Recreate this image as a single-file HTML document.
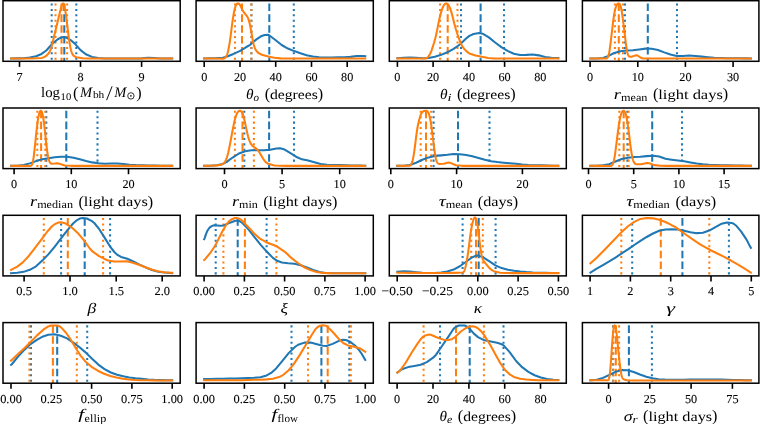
<!DOCTYPE html>
<html><head><meta charset="utf-8"><title>Posterior distributions</title>
<style>
html,body{margin:0;padding:0;background:#fff;}
body{width:760px;height:424px;overflow:hidden;}
svg{display:block;font-family:"Liberation Serif",serif;will-change:transform;text-rendering:geometricPrecision;}
.t{stroke:#000;stroke-width:0.1px;}
</style></head><body>
<svg width="760" height="424" viewBox="0 0 760 424">
<rect x="0" y="0" width="760" height="424" fill="#fff"/>
<clipPath id="c00"><rect x="3.00" y="0.70" width="177.20" height="60.60"/></clipPath>
<g clip-path="url(#c00)">
<path d="M51.70,3.45V61.30" stroke="#1f77b4" stroke-width="2.05" stroke-dasharray="2.05,3.38" fill="none"/>
<path d="M76.30,3.45V61.30" stroke="#1f77b4" stroke-width="2.05" stroke-dasharray="2.05,3.38" fill="none"/>
<path d="M64.30,3.45V61.30" stroke="#1f77b4" stroke-width="2.05" stroke-dasharray="7.58,3.28" fill="none"/>
<path d="M55.50,3.45V61.30" stroke="#ff7f0e" stroke-width="2.05" stroke-dasharray="2.05,3.38" fill="none"/>
<path d="M67.10,3.45V61.30" stroke="#ff7f0e" stroke-width="2.05" stroke-dasharray="2.05,3.38" fill="none"/>
<path d="M61.50,3.45V61.30" stroke="#ff7f0e" stroke-width="2.05" stroke-dasharray="7.58,3.28" fill="none"/>
<path d="M11.05,58.49L17.30,58.38 23.55,58.16 29.80,57.54 36.05,56.30 41.55,53.95 46.30,50.47 52.55,43.56 57.80,39.26 61.30,37.43 63.55,37.00 65.80,37.35 70.80,40.16 74.55,43.35 80.55,50.08 85.80,54.25 92.05,56.92 98.30,58.03 104.55,58.44 110.80,58.51 117.05,58.55 123.30,58.57 129.30,58.58 135.55,58.55 141.80,58.37 148.05,57.67 154.30,57.95 160.55,58.51 166.80,58.58 172.15,58.55" stroke="#1f77b4" stroke-width="2.05" fill="none" stroke-linejoin="round" stroke-linecap="square"/>
<path d="M11.05,58.55L17.30,58.51 23.55,58.48 29.80,58.41 36.05,58.26 42.05,57.91 44.55,56.94 46.55,55.55 48.05,54.04 49.05,52.71 49.80,51.42 50.30,50.36 50.80,49.06 51.30,47.51 51.80,45.70 58.05,19.98 60.55,9.77 61.30,6.99 61.80,5.40 62.05,4.74 62.30,4.19 62.55,3.77 62.80,3.51 63.05,3.41 63.30,3.49 63.55,3.75 63.80,4.20 64.05,4.84 64.30,5.67 64.55,6.67 64.80,7.84 65.05,9.17 65.30,10.64 65.55,12.23 65.80,13.94 66.30,17.61 67.05,23.56 68.05,31.71 68.55,35.64 69.05,39.33 69.30,41.05 69.55,42.67 69.80,44.19 70.05,45.60 70.30,46.91 70.55,48.11 70.80,49.20 71.05,50.19 71.30,51.09 71.55,51.90 71.80,52.61 72.30,53.81 72.80,54.71 73.30,55.40 74.05,56.13 76.30,57.28 82.55,58.29 88.80,58.53 95.05,58.54 101.30,58.55 107.55,58.56 113.80,58.56 120.05,58.56 126.30,58.56 132.30,58.56 138.55,58.56 144.80,58.56 151.05,58.56 157.30,58.55 163.55,58.55 169.80,58.55 172.15,58.55" stroke="#ff7f0e" stroke-width="2.05" fill="none" stroke-linejoin="round" stroke-linecap="square"/>
</g>
<rect x="3.00" y="0.70" width="177.20" height="60.60" fill="none" stroke="#000" stroke-width="1.5"/>
<path d="M19.50,61.30V66.90" stroke="#000" stroke-width="1.6"/>
<text class="t" x="16.45" y="80.60" font-size="12.20" textLength="6.10" lengthAdjust="spacingAndGlyphs">7</text>
<path d="M80.50,61.30V66.90" stroke="#000" stroke-width="1.6"/>
<text class="t" x="77.45" y="80.60" font-size="12.20" textLength="6.10" lengthAdjust="spacingAndGlyphs">8</text>
<path d="M141.60,61.30V66.90" stroke="#000" stroke-width="1.6"/>
<text class="t" x="138.55" y="80.60" font-size="12.20" textLength="6.10" lengthAdjust="spacingAndGlyphs">9</text>
<clipPath id="c01"><rect x="196.10" y="0.70" width="177.20" height="60.60"/></clipPath>
<g clip-path="url(#c01)">
<path d="M251.40,3.45V61.30" stroke="#1f77b4" stroke-width="2.05" stroke-dasharray="2.05,3.38" fill="none"/>
<path d="M293.80,3.45V61.30" stroke="#1f77b4" stroke-width="2.05" stroke-dasharray="2.05,3.38" fill="none"/>
<path d="M269.30,3.45V61.30" stroke="#1f77b4" stroke-width="2.05" stroke-dasharray="7.58,3.28" fill="none"/>
<path d="M235.00,3.45V61.30" stroke="#ff7f0e" stroke-width="2.05" stroke-dasharray="2.05,3.38" fill="none"/>
<path d="M251.40,3.45V61.30" stroke="#ff7f0e" stroke-width="2.05" stroke-dasharray="2.05,3.38" fill="none"/>
<path d="M242.00,3.45V61.30" stroke="#ff7f0e" stroke-width="2.05" stroke-dasharray="7.58,3.28" fill="none"/>
<path d="M204.15,58.49L210.40,58.33 216.65,58.13 222.90,57.65 227.15,56.49 233.40,53.93 239.65,51.07 245.90,47.26 250.15,44.82 256.40,39.37 260.90,36.32 264.65,35.01 267.65,34.82 269.15,35.19 275.40,39.99 281.65,44.99 287.90,48.54 294.15,51.09 300.40,53.22 306.65,55.17 312.90,56.54 319.15,57.21 325.40,57.45 331.65,57.45 337.90,57.38 344.15,57.29 350.40,56.88 356.65,55.98 362.90,56.04 365.25,56.18" stroke="#1f77b4" stroke-width="2.05" fill="none" stroke-linejoin="round" stroke-linecap="square"/>
<path d="M204.15,58.55L210.40,58.56 216.65,58.56 222.90,58.69 224.15,58.41 224.90,58.01 225.40,57.59 225.90,56.98 226.40,56.15 226.90,55.05 227.15,54.39 227.40,53.64 227.65,52.81 227.90,51.89 228.15,50.88 228.40,49.77 228.65,48.57 228.90,47.28 229.15,45.88 229.40,44.39 229.65,42.81 229.90,41.13 230.40,37.53 231.90,25.91 232.40,22.19 232.90,18.70 233.15,17.07 233.40,15.52 233.65,14.07 233.90,12.71 234.15,11.45 234.40,10.30 234.65,9.25 234.90,8.30 235.15,7.45 235.40,6.70 235.65,6.04 235.90,5.47 236.40,4.57 236.90,3.95 237.40,3.59 237.90,3.44 238.40,3.47 238.90,3.70 239.40,4.16 239.90,4.84 240.65,6.19 242.65,10.31 243.40,11.64 244.40,13.03 246.40,15.33 247.15,16.41 247.65,17.30 248.15,18.40 248.65,19.76 249.15,21.41 249.65,23.38 250.15,25.66 250.65,28.22 252.40,38.19 252.90,40.81 253.15,42.01 253.40,43.12 253.65,44.14 253.90,45.08 254.40,46.71 254.90,48.05 255.40,49.15 256.15,50.49 256.90,51.52 258.15,52.76 261.90,54.79 268.15,56.56 274.40,57.71 280.65,58.36 286.90,58.55 293.15,58.56 299.40,58.57 305.65,58.57 311.90,58.57 318.15,58.57 324.40,58.57 330.65,58.56 336.90,58.56 343.15,58.56 349.40,58.56 355.65,58.55 361.90,58.55 365.25,58.55" stroke="#ff7f0e" stroke-width="2.05" fill="none" stroke-linejoin="round" stroke-linecap="square"/>
</g>
<rect x="196.10" y="0.70" width="177.20" height="60.60" fill="none" stroke="#000" stroke-width="1.5"/>
<path d="M204.20,61.30V66.90" stroke="#000" stroke-width="1.6"/>
<text class="t" x="201.15" y="80.60" font-size="12.20" textLength="6.10" lengthAdjust="spacingAndGlyphs">0</text>
<path d="M240.00,61.30V66.90" stroke="#000" stroke-width="1.6"/>
<text class="t" x="233.90" y="80.60" font-size="12.20" textLength="12.20" lengthAdjust="spacingAndGlyphs">20</text>
<path d="M275.70,61.30V66.90" stroke="#000" stroke-width="1.6"/>
<text class="t" x="269.60" y="80.60" font-size="12.20" textLength="12.20" lengthAdjust="spacingAndGlyphs">40</text>
<path d="M311.50,61.30V66.90" stroke="#000" stroke-width="1.6"/>
<text class="t" x="305.40" y="80.60" font-size="12.20" textLength="12.20" lengthAdjust="spacingAndGlyphs">60</text>
<path d="M347.20,61.30V66.90" stroke="#000" stroke-width="1.6"/>
<text class="t" x="341.10" y="80.60" font-size="12.20" textLength="12.20" lengthAdjust="spacingAndGlyphs">80</text>
<clipPath id="c02"><rect x="389.30" y="0.70" width="177.00" height="60.60"/></clipPath>
<g clip-path="url(#c02)">
<path d="M461.00,3.45V61.30" stroke="#1f77b4" stroke-width="2.05" stroke-dasharray="2.05,3.38" fill="none"/>
<path d="M504.00,3.45V61.30" stroke="#1f77b4" stroke-width="2.05" stroke-dasharray="2.05,3.38" fill="none"/>
<path d="M480.60,3.45V61.30" stroke="#1f77b4" stroke-width="2.05" stroke-dasharray="7.58,3.28" fill="none"/>
<path d="M440.10,3.45V61.30" stroke="#ff7f0e" stroke-width="2.05" stroke-dasharray="2.05,3.38" fill="none"/>
<path d="M457.50,3.45V61.30" stroke="#ff7f0e" stroke-width="2.05" stroke-dasharray="2.05,3.38" fill="none"/>
<path d="M447.70,3.45V61.30" stroke="#ff7f0e" stroke-width="2.05" stroke-dasharray="7.58,3.28" fill="none"/>
<path d="M397.35,58.17L403.60,57.74 409.85,57.42 416.10,57.78 422.35,58.33 428.60,58.04 434.85,56.70 441.10,54.85 447.35,52.32 453.60,48.79 459.85,44.48 466.10,38.54 469.35,35.92 473.60,33.98 479.10,33.04 482.60,33.70 488.85,37.39 495.10,42.53 501.35,47.11 507.60,50.93 513.85,53.73 520.10,54.98 526.35,54.89 532.60,54.60 538.85,55.36 545.10,56.91 551.35,57.84 557.60,58.07 558.25,58.09" stroke="#1f77b4" stroke-width="2.05" fill="none" stroke-linejoin="round" stroke-linecap="square"/>
<path d="M397.35,58.55L403.60,58.55 409.85,58.55 416.10,58.55 422.35,58.59 425.35,58.59 426.35,58.30 427.35,57.66 428.35,56.61 429.35,55.21 430.10,53.88 430.85,52.26 431.60,50.35 432.60,47.43 434.10,42.52 435.10,38.91 435.85,35.92 436.35,33.72 437.10,30.13 438.60,22.62 439.35,19.16 440.10,16.00 440.85,13.14 441.60,10.62 442.10,9.13 442.60,7.81 443.10,6.66 443.60,5.70 444.10,4.92 444.60,4.31 445.10,3.86 445.60,3.58 446.10,3.45 446.85,3.57 447.60,4.05 448.10,4.55 448.60,5.22 449.10,6.07 449.60,7.10 450.10,8.32 450.60,9.71 451.35,12.11 452.10,14.82 454.35,23.79 455.60,28.32 457.10,33.28 458.10,36.23 460.60,42.90 461.35,44.60 462.10,45.98 463.85,48.44 466.85,51.63 469.35,53.44 475.60,55.57 481.85,56.86 488.10,57.91 494.35,58.42 500.60,58.50 506.85,58.53 513.10,58.54 519.35,58.55 525.60,58.55 531.85,58.55 538.10,58.55 544.35,58.55 550.60,58.55 556.85,58.55 558.25,58.55" stroke="#ff7f0e" stroke-width="2.05" fill="none" stroke-linejoin="round" stroke-linecap="square"/>
</g>
<rect x="389.30" y="0.70" width="177.00" height="60.60" fill="none" stroke="#000" stroke-width="1.5"/>
<path d="M397.40,61.30V66.90" stroke="#000" stroke-width="1.6"/>
<text class="t" x="394.35" y="80.60" font-size="12.20" textLength="6.10" lengthAdjust="spacingAndGlyphs">0</text>
<path d="M433.10,61.30V66.90" stroke="#000" stroke-width="1.6"/>
<text class="t" x="427.00" y="80.60" font-size="12.20" textLength="12.20" lengthAdjust="spacingAndGlyphs">20</text>
<path d="M468.90,61.30V66.90" stroke="#000" stroke-width="1.6"/>
<text class="t" x="462.80" y="80.60" font-size="12.20" textLength="12.20" lengthAdjust="spacingAndGlyphs">40</text>
<path d="M504.60,61.30V66.90" stroke="#000" stroke-width="1.6"/>
<text class="t" x="498.50" y="80.60" font-size="12.20" textLength="12.20" lengthAdjust="spacingAndGlyphs">60</text>
<path d="M540.30,61.30V66.90" stroke="#000" stroke-width="1.6"/>
<text class="t" x="534.20" y="80.60" font-size="12.20" textLength="12.20" lengthAdjust="spacingAndGlyphs">80</text>
<clipPath id="c03"><rect x="582.40" y="0.70" width="176.50" height="60.60"/></clipPath>
<g clip-path="url(#c03)">
<path d="M625.00,3.45V61.30" stroke="#1f77b4" stroke-width="2.05" stroke-dasharray="2.05,3.38" fill="none"/>
<path d="M677.00,3.45V61.30" stroke="#1f77b4" stroke-width="2.05" stroke-dasharray="2.05,3.38" fill="none"/>
<path d="M647.80,3.45V61.30" stroke="#1f77b4" stroke-width="2.05" stroke-dasharray="7.58,3.28" fill="none"/>
<path d="M614.90,3.45V61.30" stroke="#ff7f0e" stroke-width="2.05" stroke-dasharray="2.05,3.38" fill="none"/>
<path d="M623.00,3.45V61.30" stroke="#ff7f0e" stroke-width="2.05" stroke-dasharray="2.05,3.38" fill="none"/>
<path d="M618.80,3.45V61.30" stroke="#ff7f0e" stroke-width="2.05" stroke-dasharray="7.58,3.28" fill="none"/>
<path d="M590.45,58.55L596.70,58.43 602.95,57.90 607.95,56.15 614.20,53.02 620.45,51.27 626.70,50.50 632.95,50.16 639.20,49.43 645.45,48.62 651.70,48.74 657.95,50.01 664.20,52.40 670.45,54.57 676.70,55.93 682.95,55.97 689.20,55.60 695.45,55.96 701.70,56.64 707.95,57.21 714.20,57.66 720.45,57.96 726.70,58.16 732.95,58.27 739.20,58.33 745.45,58.37 750.85,58.40" stroke="#1f77b4" stroke-width="2.05" fill="none" stroke-linejoin="round" stroke-linecap="square"/>
<path d="M590.45,58.55L596.70,58.56 602.95,58.56 606.20,58.57 606.70,58.42 607.20,58.09 607.45,57.83 607.70,57.48 607.95,57.03 608.20,56.47 608.45,55.76 608.70,54.89 608.95,53.84 609.20,52.62 609.45,51.21 609.70,49.63 609.95,47.89 610.20,46.04 610.70,42.06 612.70,25.05 612.95,23.00 613.20,21.04 613.45,19.18 613.70,17.43 613.95,15.80 614.20,14.28 614.45,12.88 614.70,11.59 614.95,10.42 615.20,9.35 615.45,8.38 615.70,7.52 615.95,6.75 616.20,6.08 616.45,5.51 616.95,4.60 617.45,3.98 617.95,3.60 618.45,3.45 618.95,3.53 619.45,3.88 619.70,4.18 619.95,4.59 620.20,5.11 620.45,5.76 620.70,6.56 620.95,7.52 621.20,8.62 621.45,9.88 621.70,11.29 621.95,12.82 622.20,14.46 622.70,17.99 623.45,23.65 624.20,29.61 625.70,42.29 625.95,44.29 626.20,46.17 626.45,47.90 626.70,49.46 626.95,50.84 627.20,52.04 627.45,53.06 627.70,53.92 627.95,54.63 628.20,55.21 628.45,55.67 628.70,56.03 629.20,56.51 629.95,56.84 631.45,56.80 635.70,55.37 636.95,55.39 637.95,55.76 640.95,57.79 642.95,58.44 649.20,58.55 655.45,58.55 661.70,58.55 667.95,58.55 674.20,58.55 680.45,58.55 686.70,58.55 692.95,58.55 699.20,58.55 705.45,58.55 711.70,58.55 717.95,58.55 724.20,58.55 730.45,58.55 736.70,58.55 742.95,58.55 749.20,58.55 750.85,58.55" stroke="#ff7f0e" stroke-width="2.05" fill="none" stroke-linejoin="round" stroke-linecap="square"/>
</g>
<rect x="582.40" y="0.70" width="176.50" height="60.60" fill="none" stroke="#000" stroke-width="1.5"/>
<path d="M590.10,61.30V66.90" stroke="#000" stroke-width="1.6"/>
<text class="t" x="587.05" y="80.60" font-size="12.20" textLength="6.10" lengthAdjust="spacingAndGlyphs">0</text>
<path d="M637.80,61.30V66.90" stroke="#000" stroke-width="1.6"/>
<text class="t" x="631.70" y="80.60" font-size="12.20" textLength="12.20" lengthAdjust="spacingAndGlyphs">10</text>
<path d="M685.40,61.30V66.90" stroke="#000" stroke-width="1.6"/>
<text class="t" x="679.30" y="80.60" font-size="12.20" textLength="12.20" lengthAdjust="spacingAndGlyphs">20</text>
<path d="M733.10,61.30V66.90" stroke="#000" stroke-width="1.6"/>
<text class="t" x="727.00" y="80.60" font-size="12.20" textLength="12.20" lengthAdjust="spacingAndGlyphs">30</text>
<clipPath id="c10"><rect x="3.00" y="108.00" width="177.20" height="60.60"/></clipPath>
<g clip-path="url(#c10)">
<path d="M46.30,110.75V168.60" stroke="#1f77b4" stroke-width="2.05" stroke-dasharray="2.05,3.38" fill="none"/>
<path d="M97.50,110.75V168.60" stroke="#1f77b4" stroke-width="2.05" stroke-dasharray="2.05,3.38" fill="none"/>
<path d="M66.30,110.75V168.60" stroke="#1f77b4" stroke-width="2.05" stroke-dasharray="7.58,3.28" fill="none"/>
<path d="M37.30,110.75V168.60" stroke="#ff7f0e" stroke-width="2.05" stroke-dasharray="2.05,3.38" fill="none"/>
<path d="M45.30,110.75V168.60" stroke="#ff7f0e" stroke-width="2.05" stroke-dasharray="2.05,3.38" fill="none"/>
<path d="M41.10,110.75V168.60" stroke="#ff7f0e" stroke-width="2.05" stroke-dasharray="7.58,3.28" fill="none"/>
<path d="M11.05,165.84L17.30,165.70 23.55,164.93 29.80,163.38 36.05,161.10 42.30,159.34 48.55,158.16 54.80,157.21 61.05,156.76 67.30,156.78 73.55,157.68 79.80,159.30 86.05,161.05 92.30,162.39 98.55,163.21 104.80,163.66 111.05,163.52 117.30,163.41 123.55,164.00 129.55,164.65 135.80,165.08 142.05,165.37 148.30,165.55 154.55,165.64 160.80,165.71 167.05,165.76 172.15,165.80" stroke="#1f77b4" stroke-width="2.05" fill="none" stroke-linejoin="round" stroke-linecap="square"/>
<path d="M11.05,165.85L17.30,165.87 23.55,165.88 29.80,165.91 30.80,165.83 31.30,165.57 31.55,165.33 31.80,164.99 32.05,164.51 32.30,163.89 32.55,163.08 32.80,162.08 33.05,160.87 33.30,159.45 33.55,157.82 33.80,156.00 34.05,154.00 34.30,151.86 34.55,149.60 35.05,144.85 36.05,135.14 36.55,130.55 36.80,128.38 37.05,126.30 37.30,124.32 37.55,122.46 37.80,120.71 38.05,119.09 38.30,117.60 38.55,116.26 38.80,115.06 39.05,114.01 39.30,113.11 39.55,112.37 39.80,111.77 40.05,111.31 40.30,110.99 40.55,110.81 40.80,110.75 41.05,110.82 41.30,111.03 41.55,111.36 41.80,111.84 42.05,112.47 42.30,113.27 42.55,114.24 42.80,115.39 43.05,116.73 43.30,118.25 43.55,119.93 43.80,121.76 44.05,123.72 44.30,125.78 44.80,130.14 46.05,141.53 46.55,145.91 46.80,147.98 47.05,149.95 47.30,151.79 47.55,153.50 47.80,155.05 48.05,156.44 48.30,157.67 48.55,158.74 48.80,159.67 49.05,160.47 49.30,161.14 49.55,161.71 49.80,162.19 50.30,162.91 50.80,163.38 51.55,163.75 54.80,163.59 57.05,163.17 58.55,163.41 64.80,165.58 71.05,165.85 77.30,165.86 83.55,165.86 89.80,165.86 96.05,165.86 102.30,165.86 108.55,165.86 114.80,165.86 121.05,165.86 127.30,165.86 133.30,165.86 139.55,165.86 145.80,165.85 152.05,165.85 158.30,165.85 164.55,165.85 170.80,165.85 172.15,165.85" stroke="#ff7f0e" stroke-width="2.05" fill="none" stroke-linejoin="round" stroke-linecap="square"/>
</g>
<rect x="3.00" y="108.00" width="177.20" height="60.60" fill="none" stroke="#000" stroke-width="1.5"/>
<path d="M14.10,168.60V174.20" stroke="#000" stroke-width="1.6"/>
<text class="t" x="11.05" y="187.90" font-size="12.20" textLength="6.10" lengthAdjust="spacingAndGlyphs">0</text>
<path d="M71.30,168.60V174.20" stroke="#000" stroke-width="1.6"/>
<text class="t" x="65.20" y="187.90" font-size="12.20" textLength="12.20" lengthAdjust="spacingAndGlyphs">10</text>
<path d="M128.50,168.60V174.20" stroke="#000" stroke-width="1.6"/>
<text class="t" x="122.40" y="187.90" font-size="12.20" textLength="12.20" lengthAdjust="spacingAndGlyphs">20</text>
<clipPath id="c11"><rect x="196.10" y="108.00" width="177.20" height="60.60"/></clipPath>
<g clip-path="url(#c11)">
<path d="M244.30,110.75V168.60" stroke="#1f77b4" stroke-width="2.05" stroke-dasharray="2.05,3.38" fill="none"/>
<path d="M294.00,110.75V168.60" stroke="#1f77b4" stroke-width="2.05" stroke-dasharray="2.05,3.38" fill="none"/>
<path d="M269.10,110.75V168.60" stroke="#1f77b4" stroke-width="2.05" stroke-dasharray="7.58,3.28" fill="none"/>
<path d="M234.90,110.75V168.60" stroke="#ff7f0e" stroke-width="2.05" stroke-dasharray="2.05,3.38" fill="none"/>
<path d="M253.90,110.75V168.60" stroke="#ff7f0e" stroke-width="2.05" stroke-dasharray="2.05,3.38" fill="none"/>
<path d="M242.50,110.75V168.60" stroke="#ff7f0e" stroke-width="2.05" stroke-dasharray="7.58,3.28" fill="none"/>
<path d="M204.15,165.84L210.40,165.69 216.65,165.19 222.90,163.88 226.40,162.12 232.65,157.54 238.90,153.49 245.15,151.19 251.40,150.30 257.65,150.27 263.90,150.21 270.15,149.78 276.40,148.58 280.15,148.36 284.65,149.61 290.90,153.38 297.15,157.30 301.90,159.36 308.15,160.51 314.40,162.19 320.65,163.99 326.90,164.70 333.15,164.90 339.40,165.11 345.65,165.29 351.90,165.46 358.15,165.62 364.40,165.78 365.25,165.79" stroke="#1f77b4" stroke-width="2.05" fill="none" stroke-linejoin="round" stroke-linecap="square"/>
<path d="M204.15,165.84L210.40,165.70 216.65,165.38 221.15,164.77 222.65,164.14 223.65,163.41 224.40,162.59 225.15,161.46 225.65,160.50 226.15,159.37 226.65,158.06 227.15,156.57 227.65,154.87 228.15,152.98 228.65,150.86 229.15,148.54 229.90,144.73 232.65,130.00 233.40,126.23 234.15,122.72 234.65,120.58 235.15,118.63 235.65,116.89 236.15,115.39 236.65,114.14 237.15,113.12 237.65,112.30 238.15,111.67 238.65,111.21 239.15,110.90 239.65,110.76 240.15,110.79 240.65,111.00 241.15,111.38 241.65,111.98 242.15,112.80 242.65,113.89 243.15,115.28 243.65,116.96 244.15,118.89 244.90,122.12 247.15,132.48 247.65,134.62 248.15,136.60 248.65,138.35 249.15,139.88 249.65,141.19 250.40,142.82 251.15,144.15 251.90,145.22 252.90,146.24 256.65,148.92 257.90,150.23 259.90,153.14 263.15,158.75 264.65,160.85 266.15,162.43 268.15,163.84 274.40,165.44 280.65,165.81 286.90,165.86 293.15,165.87 299.40,165.87 305.65,165.88 311.90,165.88 318.15,165.87 324.40,165.87 330.65,165.87 336.90,165.87 343.15,165.86 349.40,165.86 355.65,165.85 361.90,165.85 365.25,165.85" stroke="#ff7f0e" stroke-width="2.05" fill="none" stroke-linejoin="round" stroke-linecap="square"/>
</g>
<rect x="196.10" y="108.00" width="177.20" height="60.60" fill="none" stroke="#000" stroke-width="1.5"/>
<path d="M224.50,168.60V174.20" stroke="#000" stroke-width="1.6"/>
<text class="t" x="221.45" y="187.90" font-size="12.20" textLength="6.10" lengthAdjust="spacingAndGlyphs">0</text>
<path d="M282.10,168.60V174.20" stroke="#000" stroke-width="1.6"/>
<text class="t" x="279.05" y="187.90" font-size="12.20" textLength="6.10" lengthAdjust="spacingAndGlyphs">5</text>
<path d="M339.70,168.60V174.20" stroke="#000" stroke-width="1.6"/>
<text class="t" x="333.60" y="187.90" font-size="12.20" textLength="12.20" lengthAdjust="spacingAndGlyphs">10</text>
<clipPath id="c12"><rect x="389.30" y="108.00" width="177.00" height="60.60"/></clipPath>
<g clip-path="url(#c12)">
<path d="M433.60,110.75V168.60" stroke="#1f77b4" stroke-width="2.05" stroke-dasharray="2.05,3.38" fill="none"/>
<path d="M489.50,110.75V168.60" stroke="#1f77b4" stroke-width="2.05" stroke-dasharray="2.05,3.38" fill="none"/>
<path d="M458.00,110.75V168.60" stroke="#1f77b4" stroke-width="2.05" stroke-dasharray="7.58,3.28" fill="none"/>
<path d="M420.70,110.75V168.60" stroke="#ff7f0e" stroke-width="2.05" stroke-dasharray="2.05,3.38" fill="none"/>
<path d="M431.20,110.75V168.60" stroke="#ff7f0e" stroke-width="2.05" stroke-dasharray="2.05,3.38" fill="none"/>
<path d="M426.00,110.75V168.60" stroke="#ff7f0e" stroke-width="2.05" stroke-dasharray="7.58,3.28" fill="none"/>
<path d="M397.35,165.85L403.60,165.78 409.85,164.95 416.10,162.79 422.35,159.76 428.60,157.39 434.85,155.88 441.10,155.38 447.35,154.83 453.60,154.07 459.85,154.16 466.10,155.11 472.35,156.33 478.60,157.93 484.85,159.78 491.10,161.27 497.35,162.10 503.60,162.76 509.85,163.30 516.10,163.83 522.35,164.51 528.60,164.97 534.85,165.21 541.10,165.39 547.35,165.55 553.60,165.69 558.25,165.79" stroke="#1f77b4" stroke-width="2.05" fill="none" stroke-linejoin="round" stroke-linecap="square"/>
<path d="M397.35,165.85L403.60,165.87 409.35,165.80 410.10,165.52 410.60,165.10 411.10,164.45 411.60,163.50 411.85,162.91 412.10,162.22 412.35,161.43 412.60,160.52 412.85,159.50 413.10,158.35 413.35,157.07 413.60,155.67 413.85,154.15 414.10,152.52 414.35,150.78 414.85,147.06 416.10,137.13 416.60,133.38 416.85,131.64 417.10,130.00 417.35,128.47 417.60,127.04 417.85,125.70 418.35,123.27 418.85,121.11 419.35,119.16 419.85,117.42 420.35,115.90 420.85,114.60 421.35,113.54 421.85,112.71 422.35,112.08 423.10,111.42 424.10,110.90 425.60,110.70 426.60,110.88 427.10,111.13 427.60,111.56 428.10,112.26 428.35,112.73 428.60,113.29 428.85,113.93 429.10,114.67 429.35,115.50 429.60,116.44 429.85,117.47 430.10,118.61 430.35,119.86 430.60,121.23 430.85,122.70 431.10,124.29 431.35,125.98 431.85,129.61 432.60,135.48 433.85,145.53 434.35,149.33 434.60,151.11 434.85,152.80 435.10,154.37 435.35,155.82 435.60,157.13 435.85,158.30 436.10,159.32 436.35,160.21 436.60,160.97 436.85,161.61 437.10,162.14 437.35,162.58 437.85,163.23 438.35,163.64 439.35,164.03 443.85,163.74 448.35,162.51 449.85,162.65 455.85,165.19 462.10,165.85 468.35,165.85 474.60,165.86 480.85,165.86 487.10,165.86 493.35,165.86 499.60,165.86 505.85,165.86 512.10,165.86 518.35,165.86 524.60,165.86 530.85,165.86 537.10,165.85 543.35,165.85 549.60,165.85 555.85,165.85 558.25,165.85" stroke="#ff7f0e" stroke-width="2.05" fill="none" stroke-linejoin="round" stroke-linecap="square"/>
</g>
<rect x="389.30" y="108.00" width="177.00" height="60.60" fill="none" stroke="#000" stroke-width="1.5"/>
<path d="M390.80,168.60V174.20" stroke="#000" stroke-width="1.6"/>
<text class="t" x="387.75" y="187.90" font-size="12.20" textLength="6.10" lengthAdjust="spacingAndGlyphs">0</text>
<path d="M456.60,168.60V174.20" stroke="#000" stroke-width="1.6"/>
<text class="t" x="450.50" y="187.90" font-size="12.20" textLength="12.20" lengthAdjust="spacingAndGlyphs">10</text>
<path d="M522.40,168.60V174.20" stroke="#000" stroke-width="1.6"/>
<text class="t" x="516.30" y="187.90" font-size="12.20" textLength="12.20" lengthAdjust="spacingAndGlyphs">20</text>
<clipPath id="c13"><rect x="582.40" y="108.00" width="176.50" height="60.60"/></clipPath>
<g clip-path="url(#c13)">
<path d="M627.40,110.75V168.60" stroke="#1f77b4" stroke-width="2.05" stroke-dasharray="2.05,3.38" fill="none"/>
<path d="M682.00,110.75V168.60" stroke="#1f77b4" stroke-width="2.05" stroke-dasharray="2.05,3.38" fill="none"/>
<path d="M652.20,110.75V168.60" stroke="#1f77b4" stroke-width="2.05" stroke-dasharray="7.58,3.28" fill="none"/>
<path d="M619.30,110.75V168.60" stroke="#ff7f0e" stroke-width="2.05" stroke-dasharray="2.05,3.38" fill="none"/>
<path d="M628.60,110.75V168.60" stroke="#ff7f0e" stroke-width="2.05" stroke-dasharray="2.05,3.38" fill="none"/>
<path d="M623.70,110.75V168.60" stroke="#ff7f0e" stroke-width="2.05" stroke-dasharray="7.58,3.28" fill="none"/>
<path d="M590.45,165.84L596.70,165.68 602.95,165.17 609.20,164.15 615.45,161.57 621.70,159.04 627.95,157.67 634.20,157.03 640.45,156.69 646.70,156.12 652.95,155.81 659.20,156.55 665.45,158.72 671.70,159.64 677.95,160.42 684.20,161.35 690.45,162.39 696.70,163.52 702.95,164.37 709.20,164.81 715.45,165.04 721.70,165.20 727.95,165.34 734.20,165.47 740.45,165.59 746.70,165.72 750.85,165.79" stroke="#1f77b4" stroke-width="2.05" fill="none" stroke-linejoin="round" stroke-linecap="square"/>
<path d="M590.45,165.85L596.70,165.87 602.95,165.87 609.20,165.98 610.70,165.94 611.45,165.70 611.95,165.35 612.45,164.76 612.70,164.34 612.95,163.81 613.20,163.16 613.45,162.38 613.70,161.47 613.95,160.41 614.20,159.20 614.45,157.85 614.70,156.37 614.95,154.77 615.20,153.05 615.70,149.37 617.70,133.36 618.20,129.58 618.45,127.79 618.70,126.09 618.95,124.47 619.20,122.94 619.45,121.49 619.70,120.12 619.95,118.84 620.20,117.64 620.45,116.54 620.70,115.53 620.95,114.62 621.20,113.82 621.45,113.12 621.70,112.53 621.95,112.04 622.20,111.64 622.70,111.08 623.20,110.80 623.70,110.77 624.20,110.99 624.45,111.21 624.70,111.52 624.95,111.93 625.20,112.44 625.45,113.09 625.70,113.86 625.95,114.78 626.20,115.82 626.45,117.00 626.70,118.29 626.95,119.68 627.45,122.73 627.95,126.06 628.45,129.64 628.95,133.44 630.45,145.41 630.95,149.16 631.20,150.90 631.45,152.54 631.70,154.05 631.95,155.44 632.20,156.70 632.45,157.83 632.70,158.84 632.95,159.74 633.20,160.52 633.45,161.20 633.70,161.79 634.20,162.72 634.70,163.38 635.20,163.82 636.20,164.29 640.95,164.25 647.20,163.08 649.45,163.18 654.20,165.12 660.45,165.84 666.70,165.85 672.95,165.85 679.20,165.85 685.45,165.85 691.70,165.85 697.95,165.85 704.20,165.85 710.45,165.85 716.70,165.85 722.95,165.85 729.20,165.85 735.45,165.85 741.70,165.85 747.95,165.85 750.85,165.85" stroke="#ff7f0e" stroke-width="2.05" fill="none" stroke-linejoin="round" stroke-linecap="square"/>
</g>
<rect x="582.40" y="108.00" width="176.50" height="60.60" fill="none" stroke="#000" stroke-width="1.5"/>
<path d="M588.50,168.60V174.20" stroke="#000" stroke-width="1.6"/>
<text class="t" x="585.45" y="187.90" font-size="12.20" textLength="6.10" lengthAdjust="spacingAndGlyphs">0</text>
<path d="M633.70,168.60V174.20" stroke="#000" stroke-width="1.6"/>
<text class="t" x="630.65" y="187.90" font-size="12.20" textLength="6.10" lengthAdjust="spacingAndGlyphs">5</text>
<path d="M678.90,168.60V174.20" stroke="#000" stroke-width="1.6"/>
<text class="t" x="672.80" y="187.90" font-size="12.20" textLength="12.20" lengthAdjust="spacingAndGlyphs">10</text>
<path d="M724.10,168.60V174.20" stroke="#000" stroke-width="1.6"/>
<text class="t" x="718.00" y="187.90" font-size="12.20" textLength="12.20" lengthAdjust="spacingAndGlyphs">15</text>
<clipPath id="c20"><rect x="3.00" y="215.30" width="177.20" height="60.60"/></clipPath>
<g clip-path="url(#c20)">
<path d="M61.10,218.05V275.90" stroke="#1f77b4" stroke-width="2.05" stroke-dasharray="2.05,3.38" fill="none"/>
<path d="M110.10,218.05V275.90" stroke="#1f77b4" stroke-width="2.05" stroke-dasharray="2.05,3.38" fill="none"/>
<path d="M84.70,218.05V275.90" stroke="#1f77b4" stroke-width="2.05" stroke-dasharray="7.58,3.28" fill="none"/>
<path d="M43.80,218.05V275.90" stroke="#ff7f0e" stroke-width="2.05" stroke-dasharray="2.05,3.38" fill="none"/>
<path d="M103.10,218.05V275.90" stroke="#ff7f0e" stroke-width="2.05" stroke-dasharray="2.05,3.38" fill="none"/>
<path d="M67.80,218.05V275.90" stroke="#ff7f0e" stroke-width="2.05" stroke-dasharray="7.58,3.28" fill="none"/>
<path d="M11.05,273.18L17.30,272.77 23.55,271.86 29.80,269.80 36.05,266.29 42.30,260.61 48.55,254.16 54.80,246.59 61.05,238.47 67.30,230.35 73.05,223.52 77.05,220.06 79.80,218.53 82.80,217.98 86.80,218.52 91.55,220.83 94.30,223.02 98.80,228.57 105.05,238.37 110.55,247.21 114.30,252.00 117.05,254.62 121.05,256.90 127.30,258.78 133.30,261.51 139.55,264.57 145.80,267.44 152.05,269.99 158.30,271.64 164.55,272.58 170.80,273.03 172.15,273.08" stroke="#1f77b4" stroke-width="2.05" fill="none" stroke-linejoin="round" stroke-linecap="square"/>
<path d="M11.05,269.91L17.30,266.65 22.55,262.67 28.80,255.98 35.05,247.82 41.30,239.73 47.55,231.26 52.05,226.28 55.05,223.99 58.30,222.60 61.05,222.30 65.80,223.60 72.05,227.76 78.30,233.57 83.55,239.95 89.80,248.51 92.80,251.67 99.05,256.04 105.30,259.29 108.05,260.58 114.30,261.51 120.55,261.44 126.80,261.30 132.80,262.69 139.05,264.81 145.30,267.21 151.55,269.55 157.80,271.26 164.05,272.32 170.30,272.73 172.15,272.79" stroke="#ff7f0e" stroke-width="2.05" fill="none" stroke-linejoin="round" stroke-linecap="square"/>
</g>
<rect x="3.00" y="215.30" width="177.20" height="60.60" fill="none" stroke="#000" stroke-width="1.5"/>
<path d="M24.10,275.90V281.50" stroke="#000" stroke-width="1.6"/>
<text class="t" x="16.30" y="295.20" font-size="12.20" textLength="15.59" lengthAdjust="spacingAndGlyphs">0.5</text>
<path d="M70.00,275.90V281.50" stroke="#000" stroke-width="1.6"/>
<text class="t" x="62.20" y="295.20" font-size="12.20" textLength="15.59" lengthAdjust="spacingAndGlyphs">1.0</text>
<path d="M116.20,275.90V281.50" stroke="#000" stroke-width="1.6"/>
<text class="t" x="108.40" y="295.20" font-size="12.20" textLength="15.59" lengthAdjust="spacingAndGlyphs">1.5</text>
<path d="M162.20,275.90V281.50" stroke="#000" stroke-width="1.6"/>
<text class="t" x="154.40" y="295.20" font-size="12.20" textLength="15.59" lengthAdjust="spacingAndGlyphs">2.0</text>
<clipPath id="c21"><rect x="196.10" y="215.30" width="177.20" height="60.60"/></clipPath>
<g clip-path="url(#c21)">
<path d="M215.70,218.05V275.90" stroke="#1f77b4" stroke-width="2.05" stroke-dasharray="2.05,3.38" fill="none"/>
<path d="M266.60,218.05V275.90" stroke="#1f77b4" stroke-width="2.05" stroke-dasharray="2.05,3.38" fill="none"/>
<path d="M237.70,218.05V275.90" stroke="#1f77b4" stroke-width="2.05" stroke-dasharray="7.58,3.28" fill="none"/>
<path d="M223.40,218.05V275.90" stroke="#ff7f0e" stroke-width="2.05" stroke-dasharray="2.05,3.38" fill="none"/>
<path d="M276.40,218.05V275.90" stroke="#ff7f0e" stroke-width="2.05" stroke-dasharray="2.05,3.38" fill="none"/>
<path d="M244.90,218.05V275.90" stroke="#ff7f0e" stroke-width="2.05" stroke-dasharray="7.58,3.28" fill="none"/>
<path d="M204.15,239.24L204.40,238.70 204.90,237.37 205.90,234.39 206.40,233.05 207.15,231.35 207.90,229.96 208.90,228.49 209.90,227.39 211.65,226.14 214.15,225.18 220.40,225.72 223.65,225.54 229.90,222.66 235.40,220.73 237.90,220.66 239.90,221.29 242.40,223.00 248.65,229.67 254.90,237.55 261.15,245.32 267.40,252.31 272.90,257.86 277.15,260.79 281.90,262.46 288.15,263.20 294.40,263.75 300.65,265.24 306.90,267.50 313.15,269.97 319.40,272.02 325.65,272.94 331.90,273.15 338.15,273.24 344.40,273.28 350.65,273.29 356.90,273.30 363.15,273.30 365.25,273.30" stroke="#1f77b4" stroke-width="2.05" fill="none" stroke-linejoin="round" stroke-linecap="square"/>
<path d="M204.15,259.98L205.15,259.19 210.90,252.05 214.90,245.98 217.40,241.37 221.90,232.25 225.65,225.76 227.65,222.91 229.40,221.01 231.90,219.20 234.90,218.03 236.65,217.90 239.15,218.64 241.65,220.20 247.90,226.67 254.15,233.55 260.40,238.98 266.65,242.47 272.90,244.80 277.15,246.57 283.40,250.78 285.40,252.34 291.65,258.15 297.90,263.00 304.15,267.20 310.40,270.11 316.65,271.95 322.90,272.91 329.15,273.12 335.40,273.15 341.65,273.18 347.90,273.19 354.15,273.20 360.40,273.20 365.25,273.20" stroke="#ff7f0e" stroke-width="2.05" fill="none" stroke-linejoin="round" stroke-linecap="square"/>
</g>
<rect x="196.10" y="215.30" width="177.20" height="60.60" fill="none" stroke="#000" stroke-width="1.5"/>
<path d="M204.10,275.90V281.50" stroke="#000" stroke-width="1.6"/>
<text class="t" x="193.25" y="295.20" font-size="12.20" textLength="21.69" lengthAdjust="spacingAndGlyphs">0.00</text>
<path d="M244.40,275.90V281.50" stroke="#000" stroke-width="1.6"/>
<text class="t" x="233.55" y="295.20" font-size="12.20" textLength="21.69" lengthAdjust="spacingAndGlyphs">0.25</text>
<path d="M284.60,275.90V281.50" stroke="#000" stroke-width="1.6"/>
<text class="t" x="273.75" y="295.20" font-size="12.20" textLength="21.69" lengthAdjust="spacingAndGlyphs">0.50</text>
<path d="M324.90,275.90V281.50" stroke="#000" stroke-width="1.6"/>
<text class="t" x="314.05" y="295.20" font-size="12.20" textLength="21.69" lengthAdjust="spacingAndGlyphs">0.75</text>
<path d="M365.10,275.90V281.50" stroke="#000" stroke-width="1.6"/>
<text class="t" x="354.25" y="295.20" font-size="12.20" textLength="21.69" lengthAdjust="spacingAndGlyphs">1.00</text>
<clipPath id="c22"><rect x="389.30" y="215.30" width="177.00" height="60.60"/></clipPath>
<g clip-path="url(#c22)">
<path d="M462.60,218.05V275.90" stroke="#1f77b4" stroke-width="2.05" stroke-dasharray="2.05,3.38" fill="none"/>
<path d="M495.60,218.05V275.90" stroke="#1f77b4" stroke-width="2.05" stroke-dasharray="2.05,3.38" fill="none"/>
<path d="M478.70,218.05V275.90" stroke="#1f77b4" stroke-width="2.05" stroke-dasharray="7.58,3.28" fill="none"/>
<path d="M471.20,218.05V275.90" stroke="#ff7f0e" stroke-width="2.05" stroke-dasharray="2.05,3.38" fill="none"/>
<path d="M482.80,218.05V275.90" stroke="#ff7f0e" stroke-width="2.05" stroke-dasharray="2.05,3.38" fill="none"/>
<path d="M476.00,218.05V275.90" stroke="#ff7f0e" stroke-width="2.05" stroke-dasharray="7.58,3.28" fill="none"/>
<path d="M397.35,271.67L403.60,271.37 409.85,271.59 416.10,272.22 422.35,272.76 428.60,272.98 434.85,272.99 441.10,272.61 447.35,271.50 453.60,269.54 459.85,266.28 466.10,261.72 471.85,257.53 476.10,255.68 477.85,255.47 482.85,257.12 489.10,261.22 495.35,265.41 501.60,268.12 507.85,269.66 514.10,270.69 520.35,271.47 526.60,272.05 532.85,272.44 539.10,272.67 545.35,272.80 551.60,272.90 557.85,272.99 558.25,272.99" stroke="#1f77b4" stroke-width="2.05" fill="none" stroke-linejoin="round" stroke-linecap="square"/>
<path d="M397.35,272.80L403.60,272.83 409.85,272.86 416.10,272.89 422.35,272.90 428.60,272.91 434.85,272.92 441.10,272.92 447.35,272.91 453.60,272.86 459.85,272.70 462.60,272.56 463.10,272.40 463.60,272.00 463.85,271.68 464.10,271.25 464.35,270.72 464.60,270.07 464.85,269.33 465.10,268.48 465.35,267.54 465.85,265.43 466.35,263.05 466.85,260.42 467.35,257.54 467.85,254.37 468.10,252.66 468.35,250.87 468.85,247.03 469.85,238.91 470.10,236.96 470.35,235.10 470.60,233.34 470.85,231.68 471.10,230.12 471.35,228.67 471.60,227.30 472.10,224.81 472.60,222.62 472.85,221.64 473.10,220.75 473.35,219.95 473.60,219.25 473.85,218.66 474.10,218.19 474.35,217.85 474.60,217.64 474.85,217.55 475.10,217.60 475.35,217.77 475.60,218.06 475.85,218.48 476.10,219.02 476.35,219.69 476.60,220.51 476.85,221.48 477.10,222.63 477.35,223.95 477.60,225.45 477.85,227.12 478.10,228.93 478.35,230.86 478.85,234.98 479.85,243.39 480.10,245.40 480.35,247.32 480.60,249.15 480.85,250.86 481.10,252.43 481.35,253.86 481.60,255.13 481.85,256.25 482.10,257.22 482.35,258.06 482.60,258.78 483.10,259.95 483.85,261.27 488.60,267.20 491.10,269.60 493.85,271.22 500.10,272.71 506.35,273.06 512.60,273.11 518.85,273.13 525.10,273.13 531.35,273.13 537.60,273.12 543.85,273.11 550.10,273.11 556.35,273.10 558.25,273.10" stroke="#ff7f0e" stroke-width="2.05" fill="none" stroke-linejoin="round" stroke-linecap="square"/>
</g>
<rect x="389.30" y="215.30" width="177.00" height="60.60" fill="none" stroke="#000" stroke-width="1.5"/>
<path d="M397.20,275.90V281.50" stroke="#000" stroke-width="1.6"/>
<text class="t" x="381.61" y="295.20" font-size="12.20" textLength="31.18" lengthAdjust="spacingAndGlyphs">−0.50</text>
<path d="M437.50,275.90V281.50" stroke="#000" stroke-width="1.6"/>
<text class="t" x="421.91" y="295.20" font-size="12.20" textLength="31.18" lengthAdjust="spacingAndGlyphs">−0.25</text>
<path d="M477.80,275.90V281.50" stroke="#000" stroke-width="1.6"/>
<text class="t" x="466.95" y="295.20" font-size="12.20" textLength="21.69" lengthAdjust="spacingAndGlyphs">0.00</text>
<path d="M518.10,275.90V281.50" stroke="#000" stroke-width="1.6"/>
<text class="t" x="507.25" y="295.20" font-size="12.20" textLength="21.69" lengthAdjust="spacingAndGlyphs">0.25</text>
<path d="M558.40,275.90V281.50" stroke="#000" stroke-width="1.6"/>
<text class="t" x="547.55" y="295.20" font-size="12.20" textLength="21.69" lengthAdjust="spacingAndGlyphs">0.50</text>
<clipPath id="c23"><rect x="582.40" y="215.30" width="176.50" height="60.60"/></clipPath>
<g clip-path="url(#c23)">
<path d="M632.20,218.05V275.90" stroke="#1f77b4" stroke-width="2.05" stroke-dasharray="2.05,3.38" fill="none"/>
<path d="M728.90,218.05V275.90" stroke="#1f77b4" stroke-width="2.05" stroke-dasharray="2.05,3.38" fill="none"/>
<path d="M682.40,218.05V275.90" stroke="#1f77b4" stroke-width="2.05" stroke-dasharray="7.58,3.28" fill="none"/>
<path d="M621.30,218.05V275.90" stroke="#ff7f0e" stroke-width="2.05" stroke-dasharray="2.05,3.38" fill="none"/>
<path d="M709.30,218.05V275.90" stroke="#ff7f0e" stroke-width="2.05" stroke-dasharray="2.05,3.38" fill="none"/>
<path d="M660.80,218.05V275.90" stroke="#ff7f0e" stroke-width="2.05" stroke-dasharray="7.58,3.28" fill="none"/>
<path d="M590.45,272.56L596.70,268.63 602.95,265.10 609.20,261.46 615.45,257.56 621.70,253.47 627.95,249.39 634.20,245.03 640.45,240.82 646.70,236.98 652.95,233.51 659.20,230.70 665.45,229.44 671.70,229.20 677.95,229.53 684.20,230.72 690.45,232.24 696.70,233.14 702.95,232.68 709.20,230.55 715.45,227.17 721.70,223.70 726.95,222.57 731.45,222.90 733.70,223.77 735.95,225.46 741.20,231.63 745.70,238.34 747.95,242.34 749.95,246.35 750.45,247.19 750.70,247.53 750.85,247.81" stroke="#1f77b4" stroke-width="2.05" fill="none" stroke-linejoin="round" stroke-linecap="square"/>
<path d="M590.45,263.26L596.70,257.69 602.95,251.47 609.20,245.06 615.45,238.45 621.70,231.91 627.95,226.24 634.20,221.85 640.45,218.90 646.70,217.93 652.95,218.37 659.20,219.82 665.45,221.97 671.70,225.21 674.70,226.67 680.95,231.14 687.20,235.49 693.45,239.91 699.70,244.07 705.95,247.66 712.20,250.98 718.45,254.02 724.70,257.15 730.95,260.52 737.20,264.21 743.45,267.87 749.70,271.93 750.85,272.57" stroke="#ff7f0e" stroke-width="2.05" fill="none" stroke-linejoin="round" stroke-linecap="square"/>
</g>
<rect x="582.40" y="215.30" width="176.50" height="60.60" fill="none" stroke="#000" stroke-width="1.5"/>
<path d="M590.10,275.90V281.50" stroke="#000" stroke-width="1.6"/>
<text class="t" x="587.05" y="295.20" font-size="12.20" textLength="6.10" lengthAdjust="spacingAndGlyphs">1</text>
<path d="M630.40,275.90V281.50" stroke="#000" stroke-width="1.6"/>
<text class="t" x="627.35" y="295.20" font-size="12.20" textLength="6.10" lengthAdjust="spacingAndGlyphs">2</text>
<path d="M670.70,275.90V281.50" stroke="#000" stroke-width="1.6"/>
<text class="t" x="667.65" y="295.20" font-size="12.20" textLength="6.10" lengthAdjust="spacingAndGlyphs">3</text>
<path d="M711.00,275.90V281.50" stroke="#000" stroke-width="1.6"/>
<text class="t" x="707.95" y="295.20" font-size="12.20" textLength="6.10" lengthAdjust="spacingAndGlyphs">4</text>
<path d="M751.30,275.90V281.50" stroke="#000" stroke-width="1.6"/>
<text class="t" x="748.25" y="295.20" font-size="12.20" textLength="6.10" lengthAdjust="spacingAndGlyphs">5</text>
<clipPath id="c30"><rect x="3.00" y="322.60" width="177.20" height="60.60"/></clipPath>
<g clip-path="url(#c30)">
<path d="M31.00,325.35V383.20" stroke="#1f77b4" stroke-width="2.05" stroke-dasharray="2.05,3.38" fill="none"/>
<path d="M87.20,325.35V383.20" stroke="#1f77b4" stroke-width="2.05" stroke-dasharray="2.05,3.38" fill="none"/>
<path d="M57.20,325.35V383.20" stroke="#1f77b4" stroke-width="2.05" stroke-dasharray="7.58,3.28" fill="none"/>
<path d="M29.40,325.35V383.20" stroke="#ff7f0e" stroke-width="2.05" stroke-dasharray="2.05,3.38" fill="none"/>
<path d="M76.80,325.35V383.20" stroke="#ff7f0e" stroke-width="2.05" stroke-dasharray="2.05,3.38" fill="none"/>
<path d="M52.90,325.35V383.20" stroke="#ff7f0e" stroke-width="2.05" stroke-dasharray="7.58,3.28" fill="none"/>
<path d="M11.05,364.92L11.80,364.26 18.05,356.64 24.30,349.90 30.55,344.12 36.80,339.91 43.05,336.46 48.30,334.80 54.55,334.35 60.80,335.71 67.05,338.42 73.30,342.61 79.55,347.30 85.80,352.61 92.05,358.85 98.30,364.61 104.55,369.10 110.80,372.50 117.05,374.79 123.30,376.35 129.30,377.54 135.55,378.30 141.80,378.88 148.05,379.45 154.30,379.86 160.55,380.11 166.80,380.23 172.15,380.30" stroke="#1f77b4" stroke-width="2.05" fill="none" stroke-linejoin="round" stroke-linecap="square"/>
<path d="M11.05,360.61L12.05,359.85 18.30,353.69 24.55,348.05 30.80,341.80 37.05,335.38 43.30,329.72 48.30,326.40 51.30,325.45 57.30,325.56 59.30,326.21 61.30,327.60 65.80,332.49 70.05,338.48 76.30,349.04 80.55,355.64 85.30,361.46 91.55,366.78 97.80,370.73 104.05,373.78 110.30,376.06 116.55,377.53 122.80,378.69 128.80,379.49 135.05,379.92 141.30,380.17 147.55,380.31 153.80,380.38 160.05,380.42 166.30,380.43 172.15,380.45" stroke="#ff7f0e" stroke-width="2.05" fill="none" stroke-linejoin="round" stroke-linecap="square"/>
</g>
<rect x="3.00" y="322.60" width="177.20" height="60.60" fill="none" stroke="#000" stroke-width="1.5"/>
<path d="M11.00,383.20V388.80" stroke="#000" stroke-width="1.6"/>
<text class="t" x="0.15" y="402.50" font-size="12.20" textLength="21.69" lengthAdjust="spacingAndGlyphs">0.00</text>
<path d="M51.30,383.20V388.80" stroke="#000" stroke-width="1.6"/>
<text class="t" x="40.45" y="402.50" font-size="12.20" textLength="21.69" lengthAdjust="spacingAndGlyphs">0.25</text>
<path d="M91.60,383.20V388.80" stroke="#000" stroke-width="1.6"/>
<text class="t" x="80.75" y="402.50" font-size="12.20" textLength="21.69" lengthAdjust="spacingAndGlyphs">0.50</text>
<path d="M131.90,383.20V388.80" stroke="#000" stroke-width="1.6"/>
<text class="t" x="121.05" y="402.50" font-size="12.20" textLength="21.69" lengthAdjust="spacingAndGlyphs">0.75</text>
<path d="M172.20,383.20V388.80" stroke="#000" stroke-width="1.6"/>
<text class="t" x="161.35" y="402.50" font-size="12.20" textLength="21.69" lengthAdjust="spacingAndGlyphs">1.00</text>
<clipPath id="c31"><rect x="196.10" y="322.60" width="177.20" height="60.60"/></clipPath>
<g clip-path="url(#c31)">
<path d="M291.50,325.35V383.20" stroke="#1f77b4" stroke-width="2.05" stroke-dasharray="2.05,3.38" fill="none"/>
<path d="M349.30,325.35V383.20" stroke="#1f77b4" stroke-width="2.05" stroke-dasharray="2.05,3.38" fill="none"/>
<path d="M321.40,325.35V383.20" stroke="#1f77b4" stroke-width="2.05" stroke-dasharray="7.58,3.28" fill="none"/>
<path d="M308.00,325.35V383.20" stroke="#ff7f0e" stroke-width="2.05" stroke-dasharray="2.05,3.38" fill="none"/>
<path d="M350.90,325.35V383.20" stroke="#ff7f0e" stroke-width="2.05" stroke-dasharray="2.05,3.38" fill="none"/>
<path d="M327.70,325.35V383.20" stroke="#ff7f0e" stroke-width="2.05" stroke-dasharray="7.58,3.28" fill="none"/>
<path d="M204.15,378.99L210.40,378.90 216.65,378.79 222.90,378.68 229.15,378.58 235.40,378.46 241.65,378.30 247.90,378.08 254.15,377.76 260.40,377.25 266.65,375.47 271.15,372.97 276.15,368.45 282.40,360.84 288.65,353.13 294.90,346.98 298.15,344.74 304.40,342.63 310.65,342.50 316.90,344.15 323.15,345.84 326.40,345.90 332.65,343.88 338.90,340.84 342.90,339.74 345.90,339.96 350.15,341.80 354.90,345.56 358.90,349.90 361.65,353.75 364.65,358.98 365.15,359.64 365.25,359.89" stroke="#1f77b4" stroke-width="2.05" fill="none" stroke-linejoin="round" stroke-linecap="square"/>
<path d="M204.15,380.30L210.40,380.29 216.65,380.28 222.90,380.27 229.15,380.26 235.40,380.23 241.65,380.18 247.90,380.05 254.15,379.83 260.40,379.67 266.65,379.36 272.90,378.66 279.15,377.06 283.40,374.82 288.65,370.22 293.40,364.59 299.65,355.12 305.90,344.79 312.15,334.25 314.90,329.94 316.15,328.41 317.90,326.90 320.15,325.78 323.15,325.34 325.65,325.74 327.40,326.61 333.65,332.99 339.90,340.18 343.65,343.26 347.90,345.42 354.15,346.67 360.15,348.46 364.90,351.54 365.25,351.76" stroke="#ff7f0e" stroke-width="2.05" fill="none" stroke-linejoin="round" stroke-linecap="square"/>
</g>
<rect x="196.10" y="322.60" width="177.20" height="60.60" fill="none" stroke="#000" stroke-width="1.5"/>
<path d="M204.10,383.20V388.80" stroke="#000" stroke-width="1.6"/>
<text class="t" x="193.25" y="402.50" font-size="12.20" textLength="21.69" lengthAdjust="spacingAndGlyphs">0.00</text>
<path d="M244.40,383.20V388.80" stroke="#000" stroke-width="1.6"/>
<text class="t" x="233.55" y="402.50" font-size="12.20" textLength="21.69" lengthAdjust="spacingAndGlyphs">0.25</text>
<path d="M284.70,383.20V388.80" stroke="#000" stroke-width="1.6"/>
<text class="t" x="273.85" y="402.50" font-size="12.20" textLength="21.69" lengthAdjust="spacingAndGlyphs">0.50</text>
<path d="M325.00,383.20V388.80" stroke="#000" stroke-width="1.6"/>
<text class="t" x="314.15" y="402.50" font-size="12.20" textLength="21.69" lengthAdjust="spacingAndGlyphs">0.75</text>
<path d="M365.30,383.20V388.80" stroke="#000" stroke-width="1.6"/>
<text class="t" x="354.45" y="402.50" font-size="12.20" textLength="21.69" lengthAdjust="spacingAndGlyphs">1.00</text>
<clipPath id="c32"><rect x="389.30" y="322.60" width="177.00" height="60.60"/></clipPath>
<g clip-path="url(#c32)">
<path d="M440.00,325.35V383.20" stroke="#1f77b4" stroke-width="2.05" stroke-dasharray="2.05,3.38" fill="none"/>
<path d="M503.50,325.35V383.20" stroke="#1f77b4" stroke-width="2.05" stroke-dasharray="2.05,3.38" fill="none"/>
<path d="M469.70,325.35V383.20" stroke="#1f77b4" stroke-width="2.05" stroke-dasharray="7.58,3.28" fill="none"/>
<path d="M423.60,325.35V383.20" stroke="#ff7f0e" stroke-width="2.05" stroke-dasharray="2.05,3.38" fill="none"/>
<path d="M483.90,325.35V383.20" stroke="#ff7f0e" stroke-width="2.05" stroke-dasharray="2.05,3.38" fill="none"/>
<path d="M456.00,325.35V383.20" stroke="#ff7f0e" stroke-width="2.05" stroke-dasharray="7.58,3.28" fill="none"/>
<path d="M397.35,372.57L401.85,369.20 408.10,367.10 414.35,365.95 420.60,364.75 426.85,362.11 433.10,357.71 436.10,354.68 442.35,345.46 448.60,336.31 453.10,329.48 454.35,328.03 456.10,326.70 459.10,325.47 464.35,325.50 466.10,326.05 468.35,327.56 470.60,329.81 473.85,333.66 478.35,337.34 484.60,340.31 490.85,341.55 497.10,342.72 501.85,344.34 503.85,345.68 509.85,352.44 516.10,361.00 522.10,367.18 528.35,371.92 534.60,375.23 540.85,377.53 547.10,379.02 553.35,379.81 558.25,379.99" stroke="#1f77b4" stroke-width="2.05" fill="none" stroke-linejoin="round" stroke-linecap="square"/>
<path d="M397.35,372.58L398.60,371.75 401.10,369.14 405.35,363.26 411.60,352.80 417.85,343.08 421.10,338.73 422.85,336.97 425.35,335.44 428.35,334.62 430.85,334.76 437.10,337.49 443.35,339.65 448.85,340.02 452.35,338.96 454.35,337.72 460.60,331.78 465.85,328.02 469.60,326.56 472.85,326.34 475.60,327.00 478.10,328.42 481.10,331.20 484.60,335.67 490.85,346.03 497.10,357.49 500.85,363.95 504.85,369.71 509.35,374.06 513.85,376.94 520.10,378.82 526.35,379.54 532.60,379.91 538.85,380.15 545.10,380.24 551.35,380.28 557.60,380.30 558.25,380.30" stroke="#ff7f0e" stroke-width="2.05" fill="none" stroke-linejoin="round" stroke-linecap="square"/>
</g>
<rect x="389.30" y="322.60" width="177.00" height="60.60" fill="none" stroke="#000" stroke-width="1.5"/>
<path d="M397.10,383.20V388.80" stroke="#000" stroke-width="1.6"/>
<text class="t" x="394.05" y="402.50" font-size="12.20" textLength="6.10" lengthAdjust="spacingAndGlyphs">0</text>
<path d="M433.00,383.20V388.80" stroke="#000" stroke-width="1.6"/>
<text class="t" x="426.90" y="402.50" font-size="12.20" textLength="12.20" lengthAdjust="spacingAndGlyphs">20</text>
<path d="M468.90,383.20V388.80" stroke="#000" stroke-width="1.6"/>
<text class="t" x="462.80" y="402.50" font-size="12.20" textLength="12.20" lengthAdjust="spacingAndGlyphs">40</text>
<path d="M504.70,383.20V388.80" stroke="#000" stroke-width="1.6"/>
<text class="t" x="498.60" y="402.50" font-size="12.20" textLength="12.20" lengthAdjust="spacingAndGlyphs">60</text>
<path d="M540.50,383.20V388.80" stroke="#000" stroke-width="1.6"/>
<text class="t" x="534.40" y="402.50" font-size="12.20" textLength="12.20" lengthAdjust="spacingAndGlyphs">80</text>
<clipPath id="c33"><rect x="582.40" y="322.60" width="176.50" height="60.60"/></clipPath>
<g clip-path="url(#c33)">
<path d="M613.00,325.35V383.20" stroke="#1f77b4" stroke-width="2.05" stroke-dasharray="2.05,3.38" fill="none"/>
<path d="M651.90,325.35V383.20" stroke="#1f77b4" stroke-width="2.05" stroke-dasharray="2.05,3.38" fill="none"/>
<path d="M628.90,325.35V383.20" stroke="#1f77b4" stroke-width="2.05" stroke-dasharray="7.58,3.28" fill="none"/>
<path d="M613.40,325.35V383.20" stroke="#ff7f0e" stroke-width="2.05" stroke-dasharray="2.05,3.38" fill="none"/>
<path d="M619.10,325.35V383.20" stroke="#ff7f0e" stroke-width="2.05" stroke-dasharray="2.05,3.38" fill="none"/>
<path d="M615.80,325.35V383.20" stroke="#ff7f0e" stroke-width="2.05" stroke-dasharray="7.58,3.28" fill="none"/>
<path d="M590.45,380.29L596.70,379.66 602.95,377.91 609.20,375.02 615.45,371.86 621.70,370.14 627.45,370.21 633.70,371.94 639.95,374.48 646.20,376.79 652.45,378.35 658.70,379.15 664.95,379.60 671.20,379.80 677.45,379.74 683.70,379.67 689.95,379.59 696.20,379.52 702.45,379.49 708.70,379.49 714.95,379.54 721.20,379.62 727.45,379.78 733.70,379.97 739.95,380.10 746.20,380.22 750.85,380.29" stroke="#1f77b4" stroke-width="2.05" fill="none" stroke-linejoin="round" stroke-linecap="square"/>
<path d="M590.45,380.30L596.70,380.31 602.95,380.31 607.70,380.35 608.20,380.12 608.45,379.86 608.70,379.43 608.95,378.79 609.20,377.86 609.45,376.60 609.70,374.96 609.95,372.92 610.20,370.49 610.45,367.70 610.70,364.58 610.95,361.21 611.20,357.66 611.95,346.69 612.20,343.19 612.45,339.90 612.70,336.88 612.95,334.18 613.20,331.82 613.45,329.84 613.70,328.24 613.95,327.00 614.20,326.12 614.45,325.58 614.70,325.36 614.95,325.45 615.20,325.84 615.45,326.53 615.70,327.52 615.95,328.80 616.20,330.36 616.45,332.19 616.70,334.24 616.95,336.50 617.20,338.90 618.45,351.66 618.95,356.58 619.20,358.93 619.45,361.19 619.70,363.35 619.95,365.40 620.20,367.33 620.45,369.13 620.70,370.78 620.95,372.28 621.20,373.62 621.45,374.79 621.70,375.80 621.95,376.64 622.20,377.34 622.45,377.90 622.70,378.35 623.20,378.98 623.95,379.52 626.70,380.29 632.95,380.41 639.20,380.42 645.45,380.42 651.70,380.43 657.95,380.43 664.20,380.43 670.45,380.43 676.70,380.43 682.95,380.43 689.20,380.42 695.45,380.42 701.70,380.42 707.95,380.42 714.20,380.41 720.45,380.41 726.70,380.41 732.95,380.40 739.20,380.40 745.45,380.40 750.85,380.40" stroke="#ff7f0e" stroke-width="2.05" fill="none" stroke-linejoin="round" stroke-linecap="square"/>
</g>
<rect x="582.40" y="322.60" width="176.50" height="60.60" fill="none" stroke="#000" stroke-width="1.5"/>
<path d="M608.60,383.20V388.80" stroke="#000" stroke-width="1.6"/>
<text class="t" x="605.55" y="402.50" font-size="12.20" textLength="6.10" lengthAdjust="spacingAndGlyphs">0</text>
<path d="M649.80,383.20V388.80" stroke="#000" stroke-width="1.6"/>
<text class="t" x="643.70" y="402.50" font-size="12.20" textLength="12.20" lengthAdjust="spacingAndGlyphs">25</text>
<path d="M691.10,383.20V388.80" stroke="#000" stroke-width="1.6"/>
<text class="t" x="685.00" y="402.50" font-size="12.20" textLength="12.20" lengthAdjust="spacingAndGlyphs">50</text>
<path d="M732.40,383.20V388.80" stroke="#000" stroke-width="1.6"/>
<text class="t" x="726.30" y="402.50" font-size="12.20" textLength="12.20" lengthAdjust="spacingAndGlyphs">75</text>
<text x="246.00" y="98.60" font-size="14.50" font-style="italic" textLength="7.52" lengthAdjust="spacingAndGlyphs">θ</text>
<text x="253.52" y="100.80" font-size="11.02" font-style="italic" textLength="5.56" lengthAdjust="spacingAndGlyphs">o</text>
<text x="267.34" y="99.40" font-size="16.20" text-anchor="middle">(</text>
<text x="269.97" y="98.60" font-size="13.60" textLength="47.86" lengthAdjust="spacingAndGlyphs">degrees</text>
<text x="320.47" y="99.40" font-size="16.20" text-anchor="middle">)</text>
<text x="440.00" y="98.60" font-size="14.50" font-style="italic" textLength="7.54" lengthAdjust="spacingAndGlyphs">θ</text>
<text x="447.54" y="100.80" font-size="11.02" font-style="italic" textLength="3.96" lengthAdjust="spacingAndGlyphs">i</text>
<text x="459.76" y="99.40" font-size="16.20" text-anchor="middle">(</text>
<text x="462.40" y="98.60" font-size="13.60" textLength="47.93" lengthAdjust="spacingAndGlyphs">degrees</text>
<text x="512.96" y="99.40" font-size="16.20" text-anchor="middle">)</text>
<text x="613.75" y="98.60" font-size="14.50" font-style="italic" textLength="7.20" lengthAdjust="spacingAndGlyphs">r</text>
<text x="620.95" y="100.80" font-size="11.02" textLength="26.55" lengthAdjust="spacingAndGlyphs">mean</text>
<text x="655.70" y="99.40" font-size="16.20" text-anchor="middle">(</text>
<text x="658.31" y="98.60" font-size="13.60" textLength="64.56" lengthAdjust="spacingAndGlyphs">light days</text>
<text x="725.49" y="99.40" font-size="16.20" text-anchor="middle">)</text>
<text x="30.00" y="205.70" font-size="14.50" font-style="italic" textLength="7.16" lengthAdjust="spacingAndGlyphs">r</text>
<text x="37.16" y="207.90" font-size="11.02" textLength="35.82" lengthAdjust="spacingAndGlyphs">median</text>
<text x="81.14" y="206.50" font-size="16.20" text-anchor="middle">(</text>
<text x="83.73" y="205.70" font-size="13.60" textLength="64.18" lengthAdjust="spacingAndGlyphs">light days</text>
<text x="150.51" y="206.50" font-size="16.20" text-anchor="middle">)</text>
<text x="232.00" y="205.70" font-size="14.50" font-style="italic" textLength="7.11" lengthAdjust="spacingAndGlyphs">r</text>
<text x="239.11" y="207.90" font-size="11.02" textLength="18.72" lengthAdjust="spacingAndGlyphs">min</text>
<text x="265.92" y="206.50" font-size="16.20" text-anchor="middle">(</text>
<text x="268.49" y="205.70" font-size="13.60" textLength="63.71" lengthAdjust="spacingAndGlyphs">light days</text>
<text x="334.78" y="206.50" font-size="16.20" text-anchor="middle">)</text>
<text x="438.75" y="205.70" font-size="14.50" font-style="italic" textLength="7.01" lengthAdjust="spacingAndGlyphs">τ</text>
<text x="445.76" y="207.90" font-size="11.02" textLength="26.60" lengthAdjust="spacingAndGlyphs">mean</text>
<text x="480.57" y="206.50" font-size="16.20" text-anchor="middle">(</text>
<text x="483.19" y="205.70" font-size="13.60" textLength="29.68" lengthAdjust="spacingAndGlyphs">days</text>
<text x="515.48" y="206.50" font-size="16.20" text-anchor="middle">)</text>
<text x="626.25" y="205.70" font-size="14.50" font-style="italic" textLength="7.08" lengthAdjust="spacingAndGlyphs">τ</text>
<text x="633.33" y="207.90" font-size="11.02" textLength="36.51" lengthAdjust="spacingAndGlyphs">median</text>
<text x="678.15" y="206.50" font-size="16.20" text-anchor="middle">(</text>
<text x="680.80" y="205.70" font-size="13.60" textLength="30.00" lengthAdjust="spacingAndGlyphs">days</text>
<text x="713.45" y="206.50" font-size="16.20" text-anchor="middle">)</text>
<text x="87.50" y="313.00" font-size="14.50" font-style="italic" textLength="8.75" lengthAdjust="spacingAndGlyphs">β</text>
<text x="280.50" y="313.00" font-size="14.50" font-style="italic" textLength="7.50" lengthAdjust="spacingAndGlyphs">ξ</text>
<text x="473.75" y="313.00" font-size="14.50" font-style="italic" textLength="8.25" lengthAdjust="spacingAndGlyphs">κ</text>
<text x="666.25" y="313.00" font-size="14.50" font-style="italic" textLength="8.75" lengthAdjust="spacingAndGlyphs">γ</text>
<text x="78.15" y="419.40" font-size="14.50" font-style="italic" textLength="5.89" lengthAdjust="spacingAndGlyphs">f</text>
<text x="84.64" y="421.60" font-size="11.02" textLength="21.61" lengthAdjust="spacingAndGlyphs">ellip</text>
<text x="271.40" y="419.40" font-size="14.50" font-style="italic" textLength="5.64" lengthAdjust="spacingAndGlyphs">f</text>
<text x="277.64" y="421.60" font-size="11.02" textLength="20.36" lengthAdjust="spacingAndGlyphs">flow</text>
<text x="439.50" y="420.60" font-size="14.50" font-style="italic" textLength="7.50" lengthAdjust="spacingAndGlyphs">θ</text>
<text x="447.00" y="422.80" font-size="11.02" font-style="italic" textLength="5.32" lengthAdjust="spacingAndGlyphs">e</text>
<text x="460.54" y="421.40" font-size="16.20" text-anchor="middle">(</text>
<text x="463.17" y="420.60" font-size="13.60" textLength="47.69" lengthAdjust="spacingAndGlyphs">degrees</text>
<text x="513.48" y="421.40" font-size="16.20" text-anchor="middle">)</text>
<text x="623.75" y="420.60" font-size="14.50" font-style="italic" textLength="8.89" lengthAdjust="spacingAndGlyphs">σ</text>
<text x="632.64" y="422.80" font-size="11.02" font-style="italic" textLength="5.07" lengthAdjust="spacingAndGlyphs">r</text>
<text x="645.82" y="421.40" font-size="16.20" text-anchor="middle">(</text>
<text x="648.40" y="420.60" font-size="13.60" textLength="63.80" lengthAdjust="spacingAndGlyphs">light days</text>
<text x="714.77" y="421.40" font-size="16.20" text-anchor="middle">)</text>
<text x="41.0" y="96.8" font-size="14.5" textLength="19.0" lengthAdjust="spacingAndGlyphs">log</text>
<text x="60.6" y="99.9" font-size="10.2" textLength="10.6" lengthAdjust="spacingAndGlyphs">10</text>
<text x="75.6" y="97.5" font-size="16.2" text-anchor="middle">(</text>
<text x="86.0" y="96.8" font-size="14.5" font-style="italic" text-anchor="middle">M</text>
<text x="92.9" y="98.3" font-size="10.2" textLength="11.4" lengthAdjust="spacingAndGlyphs">bh</text>
<path d="M106.6,100.2L112.1,86.3" stroke="#000" stroke-width="0.95" fill="none"/>
<text x="120.2" y="96.8" font-size="14.5" font-style="italic" text-anchor="middle">M</text>
<circle cx="130.9" cy="95.9" r="3.2" fill="none" stroke="#000" stroke-width="0.8"/>
<circle cx="130.9" cy="95.9" r="0.8" fill="#000"/>
<text x="138.9" y="97.5" font-size="16.2" text-anchor="middle">)</text>
</svg>
</body></html>
